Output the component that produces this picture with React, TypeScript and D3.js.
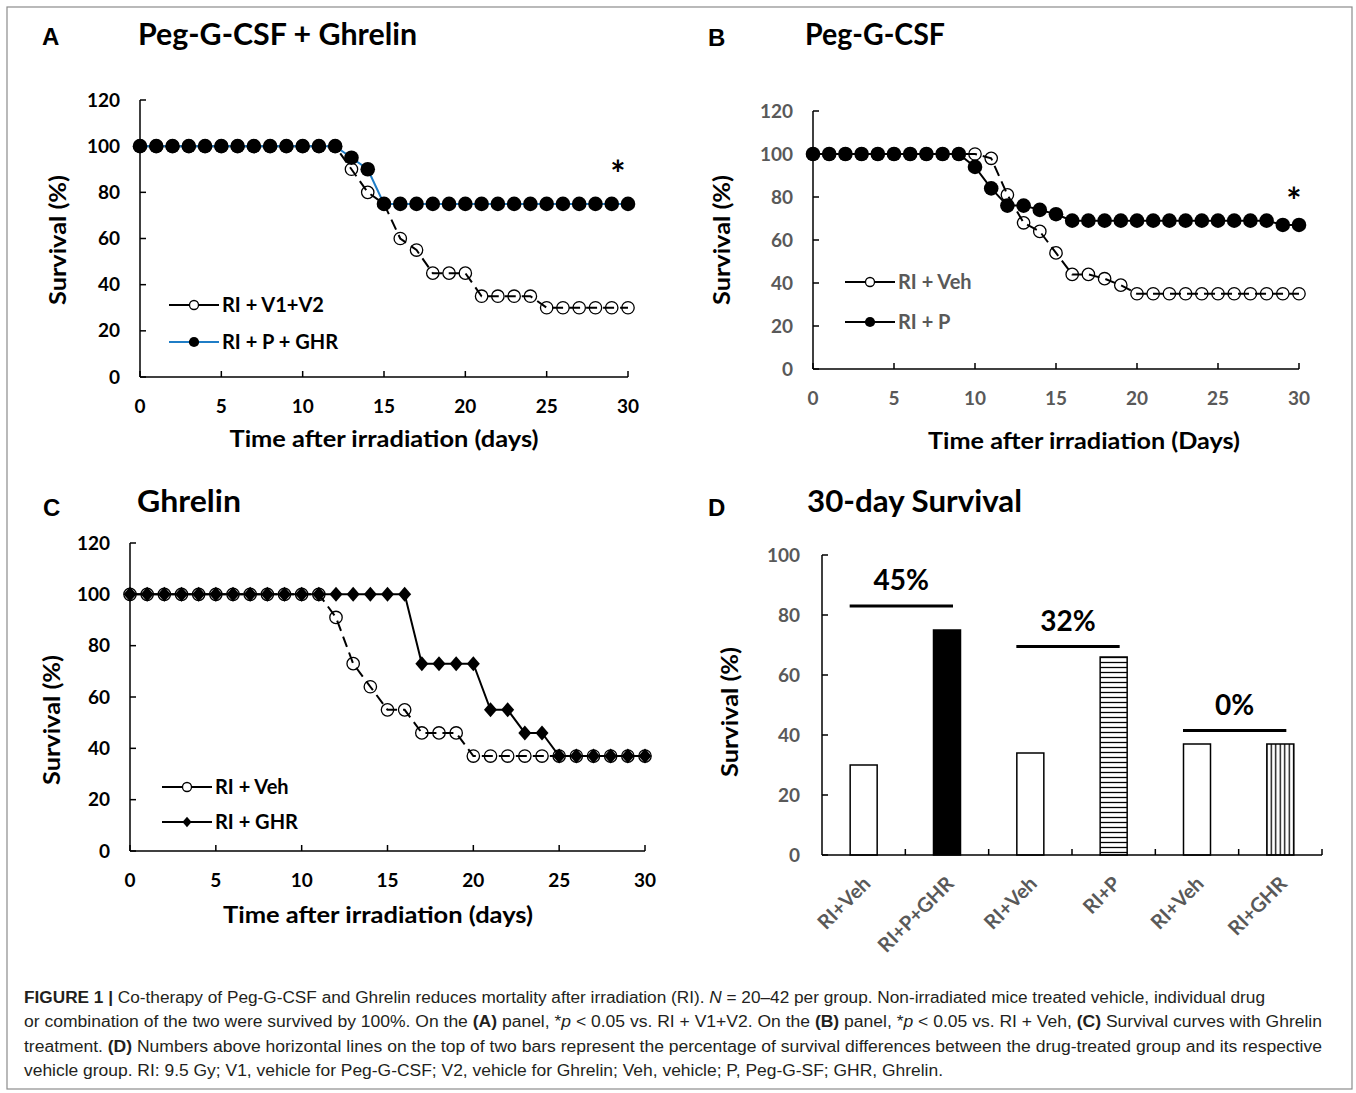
import React from 'react';
import * as d3 from 'd3';

const W = 1356;
const H = 1093;
const FONT = "Lato, 'Open Sans', 'Noto Sans', sans-serif";
const LETTER_FONT = "'Liberation Sans', Arial, sans-serif";
const CAP_FONT = "'Liberation Sans Narrow', 'Liberation Sans', Arial, sans-serif";

// shared axis ticks
const survivalTicks = [0, 20, 40, 60, 80, 100, 120];
const dayTicks = [0, 5, 10, 15, 20, 25, 30];

// Panel A - Peg-G-CSF + Ghrelin, survival (%) for days 0..30
const aVehicle = [100, 100, 100, 100, 100, 100, 100, 100, 100, 100, 100, 100, 100, 90, 80, 75, 60, 55, 45, 45, 45, 35, 35, 35, 35, 30, 30, 30, 30, 30, 30];
const aCombo = [100, 100, 100, 100, 100, 100, 100, 100, 100, 100, 100, 100, 100, 95, 90, 75, 75, 75, 75, 75, 75, 75, 75, 75, 75, 75, 75, 75, 75, 75, 75];

// Panel B - Peg-G-CSF
const bVehicle = [100, 100, 100, 100, 100, 100, 100, 100, 100, 100, 100, 98, 81, 68, 64, 54, 44, 44, 42, 39, 35, 35, 35, 35, 35, 35, 35, 35, 35, 35, 35];
const bPeg = [100, 100, 100, 100, 100, 100, 100, 100, 100, 100, 94, 84, 76, 76, 74, 72, 69, 69, 69, 69, 69, 69, 69, 69, 69, 69, 69, 69, 69, 67, 67];

// Panel C - Ghrelin
const cVehicle = [100, 100, 100, 100, 100, 100, 100, 100, 100, 100, 100, 100, 91, 73, 64, 55, 55, 46, 46, 46, 37, 37, 37, 37, 37, 37, 37, 37, 37, 37, 37];
const cGhrelin = [100, 100, 100, 100, 100, 100, 100, 100, 100, 100, 100, 100, 100, 100, 100, 100, 100, 73, 73, 73, 73, 55, 55, 46, 46, 37, 37, 37, 37, 37, 37];

// Panel D - 30-day survival
const barLabels = ['RI+Veh', 'RI+P+GHR', 'RI+Veh', 'RI+P', 'RI+Veh', 'RI+GHR'];
const barValues = [30, 75, 34, 66, 37, 37];
const barTicks = [0, 20, 40, 60, 80, 100];
const diffPairs = [[0, 1], [2, 3], [4, 5]];
const diffLabels = ['45%', '32%', '0%'];
const diffLevels = [83, 69.5, 41.5];

const barFills = ['#fff', '#000', '#fff', 'url(#hstripe)', '#fff', 'url(#vstripe)'];

type Marker = 'open' | 'filled' | 'diamond';
interface Series {
  name: string;
  values: number[];
  marker: Marker;
  color: string;
  dashed?: boolean;
}
interface PanelCfg {
  letter: string;
  letterX: number;
  letterY: number;
  title: string;
  titleX: number;
  titleY: number;
  titleW: number;
  left: number;
  right: number;
  top: number;
  bottom: number;
  tickColor: string;
  xTitle: string;
  xTitleX: number;
  xTitleY: number;
  xTitleW: number;
  yTitleX: number;
  yTitleY: number;
  series: Series[];
  legendX: number;
  legendY: number[];
  legendColor: string;
  star?: [number, number];
}

const panels: PanelCfg[] = [
  {
    letter: 'A', letterX: 42, letterY: 45,
    title: 'Peg-G-CSF + Ghrelin', titleX: 138, titleY: 45, titleW: 279,
    left: 140, right: 628, top: 100, bottom: 377, tickColor: '#000',
    xTitle: 'Time after irradiation (days)', xTitleX: 384, xTitleY: 447, xTitleW: 309,
    yTitleX: 66, yTitleY: 240,
    series: [
      { name: 'RI + V1+V2', values: aVehicle, marker: 'open', color: '#000', dashed: true },
      { name: 'RI + P + GHR', values: aCombo, marker: 'filled', color: '#1f7dc6' },
    ],
    legendX: 169, legendY: [305, 342], legendColor: '#000',
    star: [618, 187],
  },
  {
    letter: 'B', letterX: 708, letterY: 46,
    title: 'Peg-G-CSF', titleX: 805, titleY: 45, titleW: 140,
    left: 813, right: 1299, top: 111, bottom: 369, tickColor: '#595959',
    xTitle: 'Time after irradiation (Days)', xTitleX: 1084, xTitleY: 449, xTitleW: 312,
    yTitleX: 730, yTitleY: 240,
    series: [
      { name: 'RI + Veh', values: bVehicle, marker: 'open', color: '#000', dashed: true },
      { name: 'RI + P', values: bPeg, marker: 'filled', color: '#000' },
    ],
    legendX: 845, legendY: [282, 322], legendColor: '#595959',
    star: [1294, 214],
  },
  {
    letter: 'C', letterX: 43, letterY: 516,
    title: 'Ghrelin', titleX: 137, titleY: 512, titleW: 104,
    left: 130, right: 645, top: 543, bottom: 851, tickColor: '#000',
    xTitle: 'Time after irradiation (days)', xTitleX: 378, xTitleY: 923, xTitleW: 310,
    yTitleX: 60, yTitleY: 720,
    series: [
      { name: 'RI + Veh', values: cVehicle, marker: 'open', color: '#000', dashed: true },
      { name: 'RI + GHR', values: cGhrelin, marker: 'diamond', color: '#000' },
    ],
    legendX: 162, legendY: [787, 822], legendColor: '#000',
  },
];

function drawMarker(kind: Marker, cx: number, cy: number, key: string | number, legend = false) {
  const k = legend ? 0.7 : 1;
  if (kind === 'filled') return <circle key={key} cx={cx} cy={cy} r={7.3 * k} fill="#000" />;
  if (kind === 'diamond')
    return <path key={key} d={`M${cx},${cy - 7.5 * k}L${cx + 6.5 * k},${cy}L${cx},${cy + 7.5 * k}L${cx - 6.5 * k},${cy}Z`} fill="#000" />;
  return <circle key={key} cx={cx} cy={cy} r={legend ? 4.5 : 6.2} fill={legend ? '#fff' : 'none'} stroke="#000" strokeWidth={1.3} />;
}

function SurvivalPanel({ p }: { p: PanelCfg }) {
  const x = d3.scaleLinear().domain([0, 30]).range([p.left, p.right]);
  const y = d3.scaleLinear().domain([0, 120]).range([p.bottom, p.top]);
  const line = d3.line<number>().x((_, i) => x(i)).y(d => y(d));

  return (
    <g fontFamily={FONT}>
      <text x={p.letterX} y={p.letterY} fontFamily={LETTER_FONT} fontWeight="bold" fontSize={24}>{p.letter}</text>
      <text x={p.titleX} y={p.titleY} fontSize={30} fontWeight="bold" textLength={p.titleW} lengthAdjust="spacingAndGlyphs">{p.title}</text>

      {/* axes */}
      <line x1={p.left} x2={p.left} y1={p.top} y2={p.bottom} stroke="#000" strokeWidth={1.5} />
      <line x1={p.left} x2={p.right} y1={p.bottom} y2={p.bottom} stroke="#000" strokeWidth={1.5} />
      {survivalTicks.map(t => (
        <g key={`y${t}`}>
          <line x1={p.left} x2={p.left + 6} y1={y(t)} y2={y(t)} stroke="#000" strokeWidth={1.5} />
          <text x={p.left - 20} y={y(t) + 6.5} textAnchor="end" fontWeight="bold" fontSize={19} fill={p.tickColor}>{t}</text>
        </g>
      ))}
      {dayTicks.map(t => (
        <g key={`x${t}`}>
          <line x1={x(t)} x2={x(t)} y1={p.bottom} y2={p.bottom - 6} stroke="#000" strokeWidth={1.5} />
          <text x={x(t)} y={p.bottom + 36} textAnchor="middle" fontWeight="bold" fontSize={19} fill={p.tickColor}>{t}</text>
        </g>
      ))}
      <text x={p.xTitleX} y={p.xTitleY} textAnchor="middle" fontWeight="bold" fontSize={23}
        textLength={p.xTitleW} lengthAdjust="spacingAndGlyphs">{p.xTitle}</text>
      <text transform={`translate(${p.yTitleX},${p.yTitleY}) rotate(-90)`} textAnchor="middle" fontWeight="bold" fontSize={22}
        textLength={130} lengthAdjust="spacingAndGlyphs">Survival (%)</text>

      {/* series */}
      {p.series.map(s => (
        <g key={s.name}>
          <path d={line(s.values) || ''} fill="none" stroke={s.color} strokeWidth={2}
            strokeDasharray={s.dashed ? '11,6' : undefined} />
          {s.values.map((v, i) => drawMarker(s.marker, x(i), y(v), i))}
        </g>
      ))}

      {/* legend */}
      {p.series.map((s, i) => (
        <g key={`lg${s.name}`}>
          <line x1={p.legendX} x2={p.legendX + 50} y1={p.legendY[i]} y2={p.legendY[i]} stroke={s.color} strokeWidth={2} />
          {drawMarker(s.marker, p.legendX + 25, p.legendY[i], 'm', true)}
          <text x={p.legendX + 53} y={p.legendY[i] + 7} fontWeight="bold" fontSize={20} fill={p.legendColor}>{s.name}</text>
        </g>
      ))}

      {p.star && (
        <text x={p.star[0]} y={p.star[1]} textAnchor="middle" fontWeight="bold" fontSize={36}>*</text>
      )}
    </g>
  );
}

function BarPanel() {
  const left = 822, right = 1322, top = 555, bottom = 855;
  const x = d3.scaleBand<number>().domain(barLabels.map((_, i) => i)).range([left, right]).padding(0);
  const y = d3.scaleLinear().domain([0, 100]).range([bottom, top]);
  const barW = 27;
  const cx = (i: number) => (x(i) || 0) + x.bandwidth() / 2;

  return (
    <g fontFamily={FONT}>
      <defs>
        <pattern id="hstripe" width={6} height={5} patternUnits="userSpaceOnUse">
          <rect width={6} height={5} fill="#fff" />
          <line x1={0} x2={6} y1={2.5} y2={2.5} stroke="#000" strokeWidth={1.3} />
        </pattern>
        <pattern id="vstripe" width={4.5} height={6} patternUnits="userSpaceOnUse">
          <rect width={4.5} height={6} fill="#fff" />
          <line x1={2.25} x2={2.25} y1={0} y2={6} stroke="#000" strokeWidth={1.3} />
        </pattern>
      </defs>
      <text x={708} y={516} fontFamily={LETTER_FONT} fontWeight="bold" fontSize={24}>D</text>
      <text x={807} y={512} fontSize={30} fontWeight="bold" textLength={215} lengthAdjust="spacingAndGlyphs">30-day Survival</text>

      {barValues.map((v, i) => (
        <rect key={i} x={cx(i) - barW / 2} y={y(v)} width={barW} height={bottom - y(v)}
          fill={barFills[i]} stroke="#000" strokeWidth={1.5} />
      ))}

      <line x1={left} x2={left} y1={top} y2={bottom} stroke="#000" strokeWidth={1.5} />
      <line x1={left} x2={right} y1={bottom} y2={bottom} stroke="#000" strokeWidth={1.5} />
      {barTicks.map(t => (
        <g key={t}>
          <line x1={left} x2={left + 6} y1={y(t)} y2={y(t)} stroke="#000" strokeWidth={1.5} />
          <text x={left - 22} y={y(t) + 6.5} textAnchor="end" fontWeight="bold" fontSize={19} fill="#595959">{t}</text>
        </g>
      ))}
      {barLabels.map((_, i) => (
        <line key={`t${i}`} x1={(x(i) || 0) + x.bandwidth()} x2={(x(i) || 0) + x.bandwidth()}
          y1={bottom} y2={bottom - 6} stroke="#000" strokeWidth={1.5} />
      ))}
      {barLabels.map((lab, i) => (
        <text key={`l${i}`} transform={`translate(${cx(i) + 8},${bottom + 30}) rotate(-45)`} textAnchor="end"
          fontWeight="bold" fontSize={20} fill="#595959">{lab}</text>
      ))}

      {diffPairs.map(([a, b], k) => {
        const x1 = cx(a) - 14;
        const x2 = cx(b) + 6;
        const ly = y(diffLevels[k]);
        return (
          <g key={`d${k}`}>
            <line x1={x1} x2={x2} y1={ly} y2={ly} stroke="#000" strokeWidth={3} />
            <text x={(x1 + x2) / 2} y={ly - 16} textAnchor="middle" fontWeight="bold" fontSize={28}>{diffLabels[k]}</text>
          </g>
        );
      })}

      <text transform="translate(738,712) rotate(-90)" textAnchor="middle" fontWeight="bold" fontSize={22}
        textLength={130} lengthAdjust="spacingAndGlyphs">Survival (%)</text>
    </g>
  );
}

type Seg = { t: string; b?: boolean; i?: boolean };
const captionLines: { segs: Seg[]; y: number; w: number }[] = [
  {
    y: 1003, w: 1241,
    segs: [
      { t: 'FIGURE 1 | ', b: true },
      { t: 'Co-therapy of Peg-G-CSF and Ghrelin reduces mortality after irradiation (RI). ' },
      { t: 'N', i: true },
      { t: ' = 20–42 per group. Non-irradiated mice treated vehicle, individual drug' },
    ],
  },
  {
    y: 1027, w: 1298,
    segs: [
      { t: 'or combination of the two were survived by 100%. On the ' },
      { t: '(A)', b: true },
      { t: ' panel, *' },
      { t: 'p', i: true },
      { t: ' < 0.05 vs. RI + V1+V2. On the ' },
      { t: '(B)', b: true },
      { t: ' panel, *' },
      { t: 'p', i: true },
      { t: ' < 0.05 vs. RI + Veh, ' },
      { t: '(C)', b: true },
      { t: ' Survival curves with Ghrelin' },
    ],
  },
  {
    y: 1052, w: 1298,
    segs: [
      { t: 'treatment. ' },
      { t: '(D)', b: true },
      { t: ' Numbers above horizontal lines on the top of two bars represent the percentage of survival differences between the drug-treated group and its respective' },
    ],
  },
  {
    y: 1076, w: 919,
    segs: [
      { t: 'vehicle group. RI: 9.5 Gy; V1, vehicle for Peg-G-CSF; V2, vehicle for Ghrelin; Veh, vehicle; P, Peg-G-SF; GHR, Ghrelin.' },
    ],
  },
];

function Caption() {
  return (
    <g fontFamily={CAP_FONT} fontSize={16} fill="#231f20">
      {captionLines.map((ln, k) => (
        <text key={k} x={24} y={ln.y} textLength={ln.w} lengthAdjust="spacingAndGlyphs" style={{ whiteSpace: 'pre' }}>
          {ln.segs.map((s, j) => (
            <tspan key={j} fontWeight={s.b ? 'bold' : undefined} fontStyle={s.i ? 'italic' : undefined}>{s.t}</tspan>
          ))}
        </text>
      ))}
    </g>
  );
}

export default function App() {
  return (
    <svg width={W} height={H} viewBox={`0 0 ${W} ${H}`}
      style={{ position: 'absolute', left: 0, top: 0, background: '#fff' }}>
      <rect x={0} y={0} width={W} height={H} fill="#fff" />
      <rect x={7} y={7} width={1345} height={1082} fill="none" stroke="#8c8c8c" strokeWidth={1.2} />
      {panels.map(p => <SurvivalPanel key={p.letter} p={p} />)}
      <BarPanel />
      <Caption />
    </svg>
  );
}
